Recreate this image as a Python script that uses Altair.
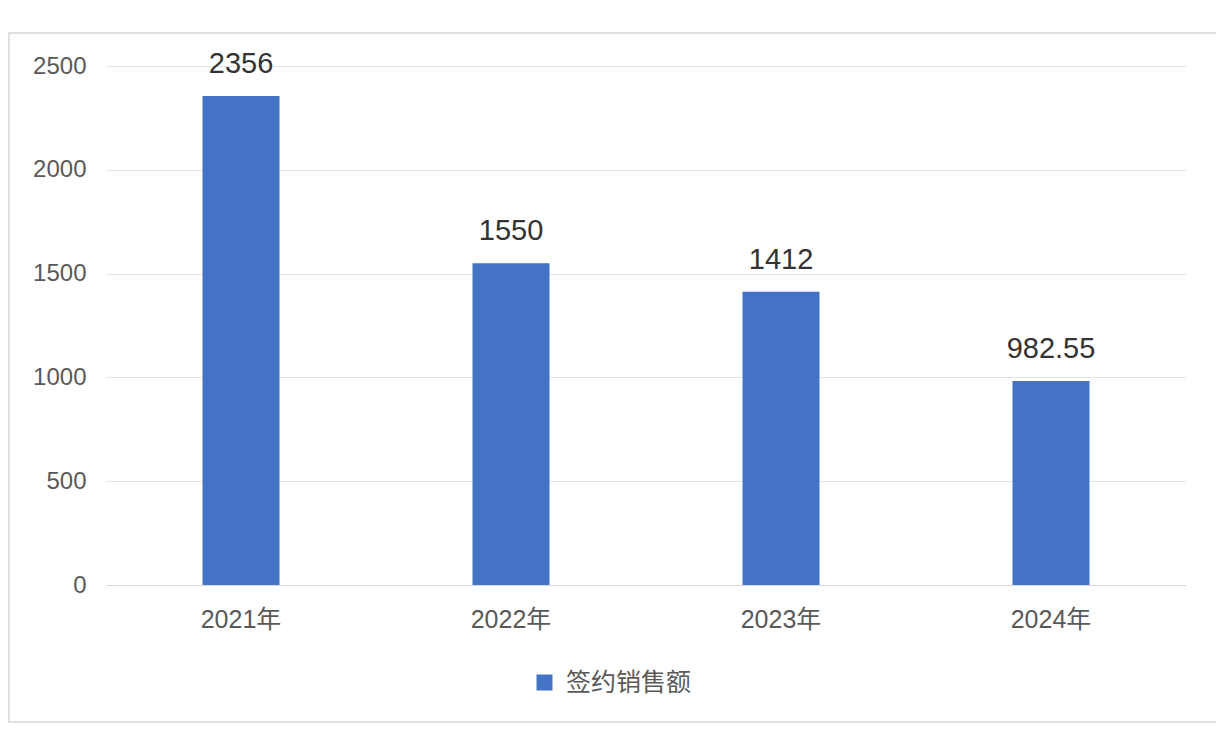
import altair as alt
import pandas as pd

years = ["2021年", "2022年", "2023年", "2024年"]
sales = [2356, 1550, 1412, 982.55]
labels = ["2356", "1550", "1412", "982.55"]
series = ["签约销售额"] * 4

df = pd.DataFrame({"year": years, "sales": sales, "label": labels, "series": series})

FONT = "Liberation Sans, Noto Sans CJK SC"

base = alt.Chart(df)

bars = base.mark_bar(width=77).encode(
    x=alt.X("year:N", sort=years, title=None,
            scale=alt.Scale(paddingInner=0, paddingOuter=0),
            axis=alt.Axis(labelAngle=0, domain=True, domainColor="#d9d9d9", ticks=False,
                          labelFontSize=25, labelColor="#595959", labelPadding=22,
                          labelFont=FONT, grid=False)),
    y=alt.Y("sales:Q", title=None,
            scale=alt.Scale(domain=[0, 2500], nice=False),
            axis=alt.Axis(values=[0, 500, 1000, 1500, 2000, 2500], format="d",
                          domain=False, ticks=False,
                          labelFontSize=24, labelColor="#595959", labelPadding=20,
                          labelFont=FONT, gridColor="#e3e3e3", gridWidth=1)),
    color=alt.Color("series:N", title=None,
                    scale=alt.Scale(range=["#4472C4"]),
                    legend=alt.Legend(orient="none", legendX=426, legendY=604,
                                      symbolType="square", symbolSize=256,
                                      symbolStrokeWidth=0, labelFontSize=25,
                                      labelColor="#595959", labelFont=FONT,
                                      labelOffset=9)),
)

text = base.mark_text(baseline="bottom", dy=-17, fontSize=29, color="#333333", font=FONT).encode(
    x=alt.X("year:N", sort=years),
    y="sales:Q",
    text="label:N",
)

border = alt.Chart(pd.DataFrame({"k": [0]})).mark_rect(
    fill=None, stroke="#d6d6d6", strokeWidth=1.5, clip=False
).encode(
    x=alt.value(-97), x2=alt.value(1111), y=alt.value(-33), y2=alt.value(656)
)

chart = alt.layer(border, bars, text).properties(
    width=1080, height=519,
    autosize=alt.AutoSizeParams(type="none"),
    padding={"left": 98, "top": 58, "right": 30, "bottom": 150},
    background="white",
).configure_view(stroke=None)

chart.save("out.html", embed_options={"renderer": "svg", "actions": False})
